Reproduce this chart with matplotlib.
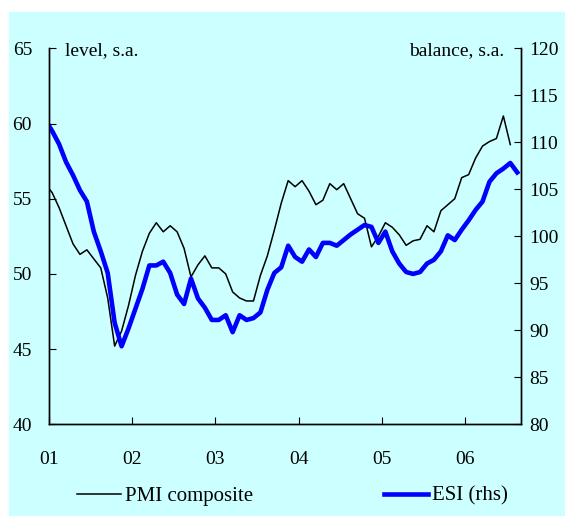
import matplotlib
matplotlib.use("Agg")
import matplotlib.pyplot as plt
import numpy as np

# monthly data, Dec 2000 .. Aug 2006 (index 0 = Dec 2000)
pmi = [56.0, 55.4, 54.4, 53.2, 52.0, 51.3, 51.6, 51.0, 50.4, 48.4, 45.2,
       46.2, 47.9, 49.9, 51.5, 52.7, 53.4, 52.8, 53.2, 52.8, 51.7, 49.8,
       50.6, 51.2, 50.4, 50.4, 50.0, 48.8, 48.4, 48.2, 48.2, 49.9, 51.2,
       52.9, 54.7, 56.2, 55.8, 56.2, 55.5, 54.6, 54.9, 56.0, 55.6, 56.0,
       55.0, 54.0, 53.7, 51.8, 52.5, 53.4, 53.1, 52.6, 51.9, 52.2, 52.3,
       53.2, 52.8, 54.2, 54.6, 55.0, 56.4, 56.6, 57.7, 58.5, 58.8, 59.0,
       60.5, 58.6]
esi = [112.4, 111.2, 109.8, 107.9, 106.5, 104.9, 103.7, 100.5, 98.4, 96.1,
       90.8, 88.3, 90.2, 92.3, 94.4, 96.9, 96.9, 97.3, 96.1, 93.8, 92.8,
       95.5, 93.4, 92.4, 91.1, 91.1, 91.6, 89.8, 91.6, 91.1, 91.3, 91.9,
       94.3, 96.1, 96.7, 99.0, 97.8, 97.3, 98.6, 97.8, 99.3, 99.3, 99.0,
       99.6, 100.2, 100.7, 101.2, 101.0, 99.3, 100.5, 98.4, 97.1, 96.2,
       96.0, 96.2, 97.1, 97.5, 98.4, 100.1, 99.6, 100.7, 101.7, 102.8,
       103.7, 105.8, 106.7, 107.2, 107.8, 106.8]
year_labels = ['01', '02', '03', '04', '05', '06']

plt.rcParams['font.family'] = 'Liberation Serif'
plt.rcParams['font.size'] = 13

bg = '#CCFFFF'
fig = plt.figure(figsize=(5.65, 5.16), dpi=100)
fig.patches.append(plt.Rectangle((9 / 565, 0), 1, 1 - 12 / 516,
                                 transform=fig.transFigure, color=bg, zorder=-10))

ax = fig.add_axes([48.7 / 565, 1 - 424.3 / 516, 472 / 565, 376 / 516])
ax.set_facecolor(bg)
ax2 = ax.twinx()

# months centred, first point is Dec 2000
x_pmi = np.arange(len(pmi)) - 0.5
x_esi = np.arange(len(esi)) - 0.5

l1, = ax.plot(x_pmi, pmi, color='black', lw=1.1, label='PMI composite')
l2, = ax2.plot(x_esi, esi, color='#0000FF', lw=3.3, label='ESI (rhs)')

ax.set_xlim(0, 68)
ax.set_ylim(40, 65)
ax2.set_ylim(80, 120)
ax.set_yticks(np.arange(40, 66, 5))
ax2.set_yticks(np.arange(80, 121, 5))
ax.set_xticks(np.arange(0, 61, 12))
ax.set_xticklabels(year_labels)

for a in (ax, ax2):
    a.spines['top'].set_visible(False)
    for s in a.spines.values():
        s.set_linewidth(1.0)
ax.tick_params(axis='x', direction='in', length=5, pad=19, labelsize=14)
ax.tick_params(axis='y', direction='in', length=5, pad=12, labelsize=14)
ax2.tick_params(axis='y', direction='in', length=5, pad=6, labelsize=14)

ax.text(0.035, 0.995, 'level, s.a.', transform=ax.transAxes, ha='left',
        va='center', fontsize=14)
ax2.text(0.965, 0.995, 'balance, s.a.', transform=ax2.transAxes, ha='right',
         va='center', fontsize=14)

fig.legend(handles=[l1, l2], loc='center', bbox_to_anchor=(0.518, 1 - 496 / 516),
           ncol=2, frameon=False, handlelength=2.1, columnspacing=6.3,
           handletextpad=0.2, fontsize=15)

fig.savefig('out.png', dpi=100, facecolor='white')
